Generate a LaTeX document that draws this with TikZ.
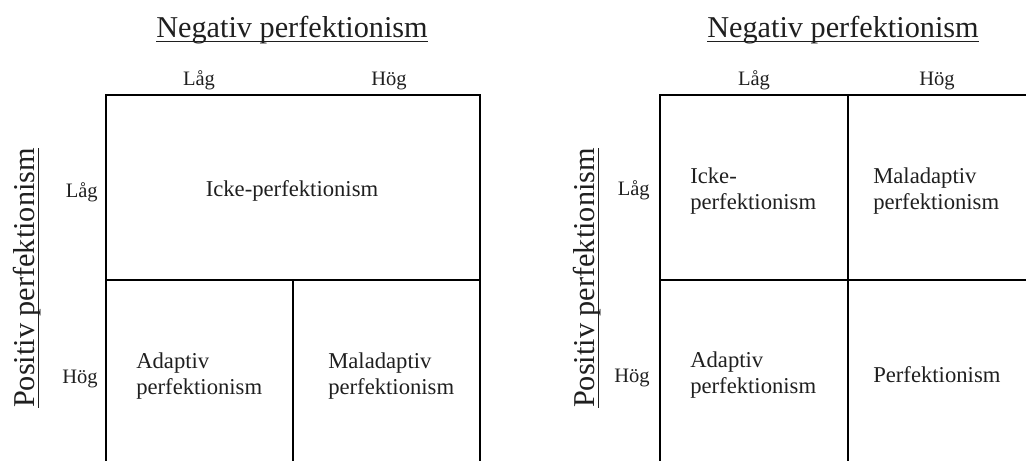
\documentclass[tikz,border=0pt]{standalone}
\usepackage{fontspec}
\setmainfont{Liberation Serif}
\usetikzlibrary{positioning}

\begin{document}
\begin{tikzpicture}[x=0.75pt,y=-0.75pt]
\def\undl#1{\setbox0\hbox{#1}\rlap{\vrule height -2.9pt depth 4.1pt width \wd0}\box0}
\tikzstyle{head}=[font=\fontsize{22.7}{26}\selectfont,inner sep=0pt,anchor=base,text=black!88];
\tikzstyle{lvl}=[font=\fontsize{15.4}{18}\selectfont,inner sep=0pt,anchor=base,text=black!88];
\tikzstyle{cell}=[font=\fontsize{17}{19.5}\selectfont,inner sep=0pt,align=left,anchor=base west,text=black!88];
\tikzstyle{grid}=[line width=2pt];

\useasboundingbox (0,0) rectangle (1026,461);

%% left model
\node [head] (n1) at (292,37) {\undl{Negativ perfektionism}};
\node [head,rotate=90] (p1) at (34,278) {\undl{Positiv perfektionism}};
\node [lvl] (c1) at (199,85) {Låg};
\node [lvl] (c2) at (389,85) {Hög};
\node [lvl,anchor=base east] (r1) at (98,197) {Låg};
\node [lvl,anchor=base east] (r2) at (98,383) {Hög};

\draw [grid] (106,461) -- (106,95) -- (480,95) -- (480,461);
\draw [grid] (106,280) -- (480,280);
\draw [grid] (293,280) -- (293,461);

\node [cell,anchor=base] (t1) at (292,196) {Icke-perfektionism};
\node [cell] (t2) at (136,394) {Adaptiv\\perfektionism};
\node [cell] (t3) at (328,394) {Maladaptiv\\perfektionism};

%% right model
\node [head] (n2) at (843,37) {\undl{Negativ perfektionism}};
\node [head,rotate=90] (p2) at (594,278) {\undl{Positiv perfektionism}};
\node [lvl] (c3) at (754,85) {Låg};
\node [lvl] (c4) at (937,85) {Hög};
\node [lvl,anchor=base east] (r3) at (650,195) {Låg};
\node [lvl,anchor=base east] (r4) at (650,382) {Hög};

\draw [grid] (660,461) -- (660,95) -- (1026,95);
\draw [grid] (660,280) -- (1026,280);
\draw [grid] (848,95) -- (848,461);

\node [cell] (t4) at (690,209) {Icke-\\perfektionism};
\node [cell] (t5) at (873,209) {Maladaptiv\\perfektionism};
\node [cell] (t6) at (690,393) {Adaptiv\\perfektionism};
\node [cell] (t7) at (873,382) {Perfektionism};
\end{tikzpicture}
\end{document}
